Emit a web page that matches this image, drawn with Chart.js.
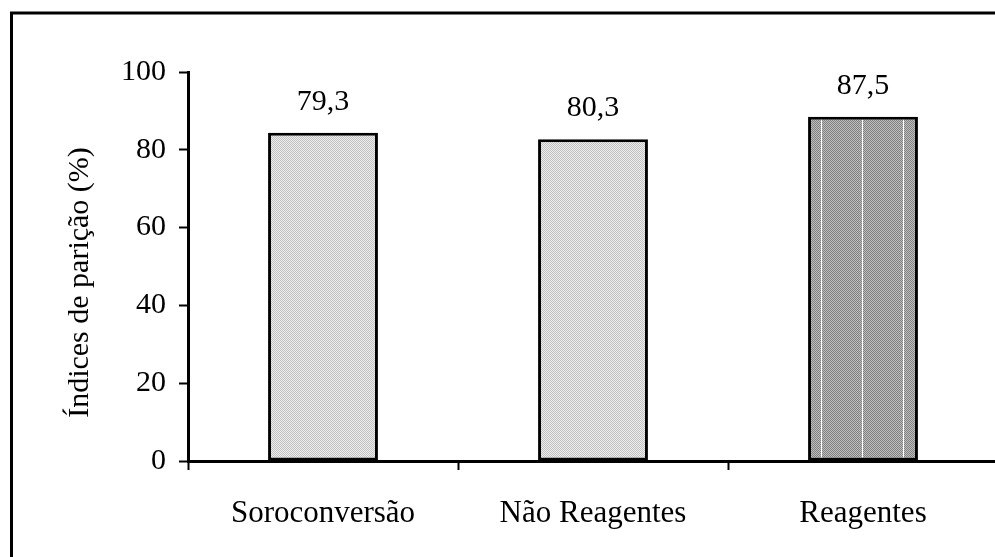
<!DOCTYPE html>
<html>
<head>
<meta charset="utf-8">
<script src="https://cdn.jsdelivr.net/npm/chart.js@4"></script>
<style>
  html, body { margin: 0; padding: 0; background: #fff; overflow: hidden; }
  #wrap { width: 1000px; height: 557px; }
</style>
</head>
<body>
<div id="wrap"><canvas id="chart" width="1000" height="557"></canvas></div>
<script>
const categories = ['Soroconversão', 'Não Reagentes', 'Reagentes'];
const barValues = [84.4, 82.7, 88.5];          // bar heights as drawn
const barLabels = ['79,3', '80,3', '87,5'];    // numbers printed above the bars
const yTicks = [0, 20, 40, 60, 80, 100];
const yTitle = 'Índices de parição (%)';

const FONT = '"Liberation Serif", "Times New Roman", serif';

// --- fills: stippled grey like the original print ---
function stipple(dark, light, stripe) {
  const c = document.createElement('canvas');
  c.width = 82; c.height = 2;
  const g = c.getContext('2d');
  for (let x = 0; x < c.width; x++) {
    for (let y = 0; y < 2; y++) {
      g.fillStyle = (x + y) % 2 ? light : dark;
      g.fillRect(x, y, 1, 1);
    }
  }
  if (stripe) {
    g.fillStyle = '#fff';
    g.fillRect(1, 0, 1, 2);
    g.fillRect(42, 0, 1, 2);
  }
  return g.createPattern(c, 'repeat');
}

const lightFill = stipple('#c0c0c0', '#eeeeee', false);
const darkFill = stipple('#808080', '#bebebe', true);

// --- plugins ---
const frame = {
  id: 'frame',
  beforeDraw(chart) {
    const ctx = chart.ctx;
    ctx.save();
    ctx.strokeStyle = '#000';
    ctx.lineWidth = 3;
    ctx.beginPath();
    ctx.moveTo(11.5, chart.height);
    ctx.lineTo(11.5, 13);
    ctx.lineTo(chart.width, 13);
    ctx.stroke();
    ctx.restore();
  }
};

const valueLabels = {
  id: 'valueLabels',
  afterDatasetsDraw(chart) {
    const ctx = chart.ctx;
    ctx.save();
    ctx.font = '30px ' + FONT;
    ctx.fillStyle = '#000';
    ctx.textAlign = 'center';
    ctx.textBaseline = 'alphabetic';
    chart.getDatasetMeta(0).data.forEach((bar, i) => ctx.fillText(barLabels[i], bar.x, bar.y - 23));
    ctx.restore();
  }
};

const sideTitle = {
  id: 'sideTitle',
  afterDraw(chart) {
    const a = chart.chartArea;
    const ctx = chart.ctx;
    ctx.save();
    ctx.translate(80, (a.top + a.bottom) / 2 + 16);
    ctx.rotate(-Math.PI / 2);
    ctx.font = '30px ' + FONT;
    ctx.fillStyle = '#000';
    ctx.textAlign = 'center';
    ctx.textBaseline = 'middle';
    ctx.fillText(yTitle, 0, 0);
    ctx.restore();
  }
};

new Chart(document.getElementById('chart'), {
  type: 'bar',
  data: {
    labels: categories,
    datasets: [{
      data: barValues,
      backgroundColor: [lightFill, lightFill, darkFill],
      borderColor: '#000',
      borderWidth: 3,
      borderSkipped: false,
      categoryPercentage: 1,
      barPercentage: 0.407
    }]
  },
  options: {
    responsive: false,
    animation: false,
    devicePixelRatio: 1,
    layout: { padding: { top: 72, right: 2, left: 0, bottom: 0 } },
    plugins: { legend: { display: false }, tooltip: { enabled: false } },
    scales: {
      x: {
        border: { color: '#000', width: 3 },
        grid: { offset: true, drawOnChartArea: false, tickLength: 9, tickWidth: 2, tickColor: '#000' },
        ticks: { color: '#000', font: { family: FONT, size: 31 }, padding: 25, maxRotation: 0 },
        afterFit: s => { s.height = 557 - 461; }
      },
      y: {
        min: 0, max: 100,
        afterBuildTicks: s => { s.ticks = yTicks.map(v => ({ value: v })); },
        border: { color: '#000', width: 3 },
        grid: { drawOnChartArea: false, tickLength: 9, tickWidth: 2, tickColor: '#000' },
        ticks: { color: '#000', font: { family: FONT, size: 30 }, padding: 13 },
        afterFit: s => { s.width = 188; }
      }
    }
  },
  plugins: [frame, valueLabels, sideTitle]
});
</script>
</body>
</html>
